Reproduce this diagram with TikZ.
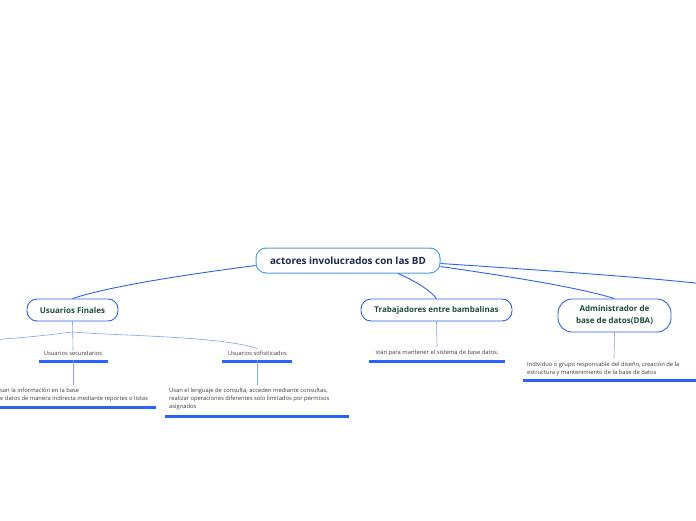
\documentclass[tikz,border=0pt]{standalone}
\usepackage{fontspec}
\setmainfont{Open Sans}
\usetikzlibrary{positioning,calc}
\definecolor{navy}{HTML}{1B2A49}
\definecolor{forest}{HTML}{1E4D3B}
\definecolor{sky}{HTML}{4A9FE0}
\definecolor{royal}{HTML}{2B62F0}
\definecolor{bright}{HTML}{2962FF}
\definecolor{pale}{HTML}{7FA3F2}
\definecolor{ink}{HTML}{3A3A3A}

\begin{document}
\begin{tikzpicture}[
  x=1pt, y=-1pt,
  root/.style={rounded corners=10pt, draw=sky, line width=1pt, fill=white,
               text=navy, font=\fontsize{9.9}{11}\selectfont\bfseries,
               minimum width=184pt, minimum height=25pt, inner sep=0pt},
  branch/.style={rounded corners=10pt, draw=royal, line width=0.9pt, fill=white,
                 text=forest, font=\fontsize{8}{12}\selectfont\bfseries,
                 minimum height=22pt, inner sep=0pt, align=center},
  topic/.style={text=ink, font=\fontsize{5.8}{8}\selectfont, inner sep=0pt},
  leaf/.style={topic, align=left},
  link/.style={draw=royal, line width=0.9pt},
  sublink/.style={draw=pale, line width=0.6pt},
  uline/.style={draw=bright, line width=2.1pt}
]
\useasboundingbox (0,0) rectangle (696,520);
\clip (0,0) rectangle (696,520);

% central topic
\node[root] (root) at (348,260.5) {actores involucrados con las BD};

% main branches
\node[branch, minimum width=91pt] (finales) at (72.5,310) {Usuarios Finales};
\node[branch, minimum width=151pt] (bamba) at (436.5,310) {Trabajadores entre bambalinas};
\node[branch, minimum width=113pt, minimum height=33pt, rounded corners=14pt] (dba) at (614.5,315.5)
  {Administrador de\\base de datos(DBA)};
\coordinate (offright) at (700,283.5);

\draw[link] ($(root.west)+(0,5)$) .. controls (190,274) and (110,286) .. (finales.north);
\draw[link] ($(root.south)+(50,0)$) .. controls (415,281) and (430,290) .. (bamba.north);
\draw[link] ($(root.east)+(0,6)$) .. controls (520,278) and (580,288) .. (dba.north);
\draw[link] ($(root.east)+(0,3)$) .. controls (540,270) and (640,277) .. (offright);

% Usuarios Finales
\coordinate (hub) at (72.5,332);
\coordinate (offleft) at (-4,339.5);
\node[topic] (secund) at (73,353) {Usuarios secundarios};
\node[topic] (sofis) at (257.5,353) {Usuarios sofisiticados};
\draw[uline] (39,361.5) -- (108,361.5);
\draw[uline] (222,361.5) -- (292,361.5);
\draw[sublink] (finales.south) -- (secund.north);
\draw[sublink] (hub) .. controls (40,336) and (20,338) .. (offleft);
\draw[sublink] (hub) .. controls (120,336) and (220,336) .. ($(sofis.north)+(0,-2)$);

\node[leaf, anchor=north west] (secundtxt) at (0,387.5)
  {san la información en la base\\e datos de manera indirecta mediante reportes o listas};
\draw[uline] (-2,407.5) -- (156,407.5);
\draw[sublink] ($(secund.south)+(0,5)$) -- ($(secund.south)+(0,30)$);

\node[leaf, anchor=north west] (sofistxt) at (169,388)
  {Usan el lenguaje de consulta, acceden mediante consultas,\\realizar operaciones diferentes solo limitados por permisos\\asignados};
\draw[uline] (165,416.5) -- (349,416.5);
\draw[sublink] ($(sofis.south)+(0,5)$) -- ($(sofis.south)+(0,30)$);

% Trabajadores entre bambalinas
\node[topic] (bambatxt) at (437,353) {stán para mantener el sistema de base datos.};
\draw[uline] (369,361.5) -- (505,361.5);
\draw[sublink] (bamba.south) -- ($(bambatxt.north)+(0,-3)$);

% Administrador
\node[leaf, anchor=north west] (dbatxt) at (527,362)
  {Individuo o grupo responsable del diseño, creación de la\\estructura y mantenimiento de la base de datos};
\draw[uline] (523,380.5) -- (700,380.5);
\draw[sublink] (dba.south) -- ($(dbatxt.north west)+(87,-4)$);

\end{tikzpicture}
\end{document}
